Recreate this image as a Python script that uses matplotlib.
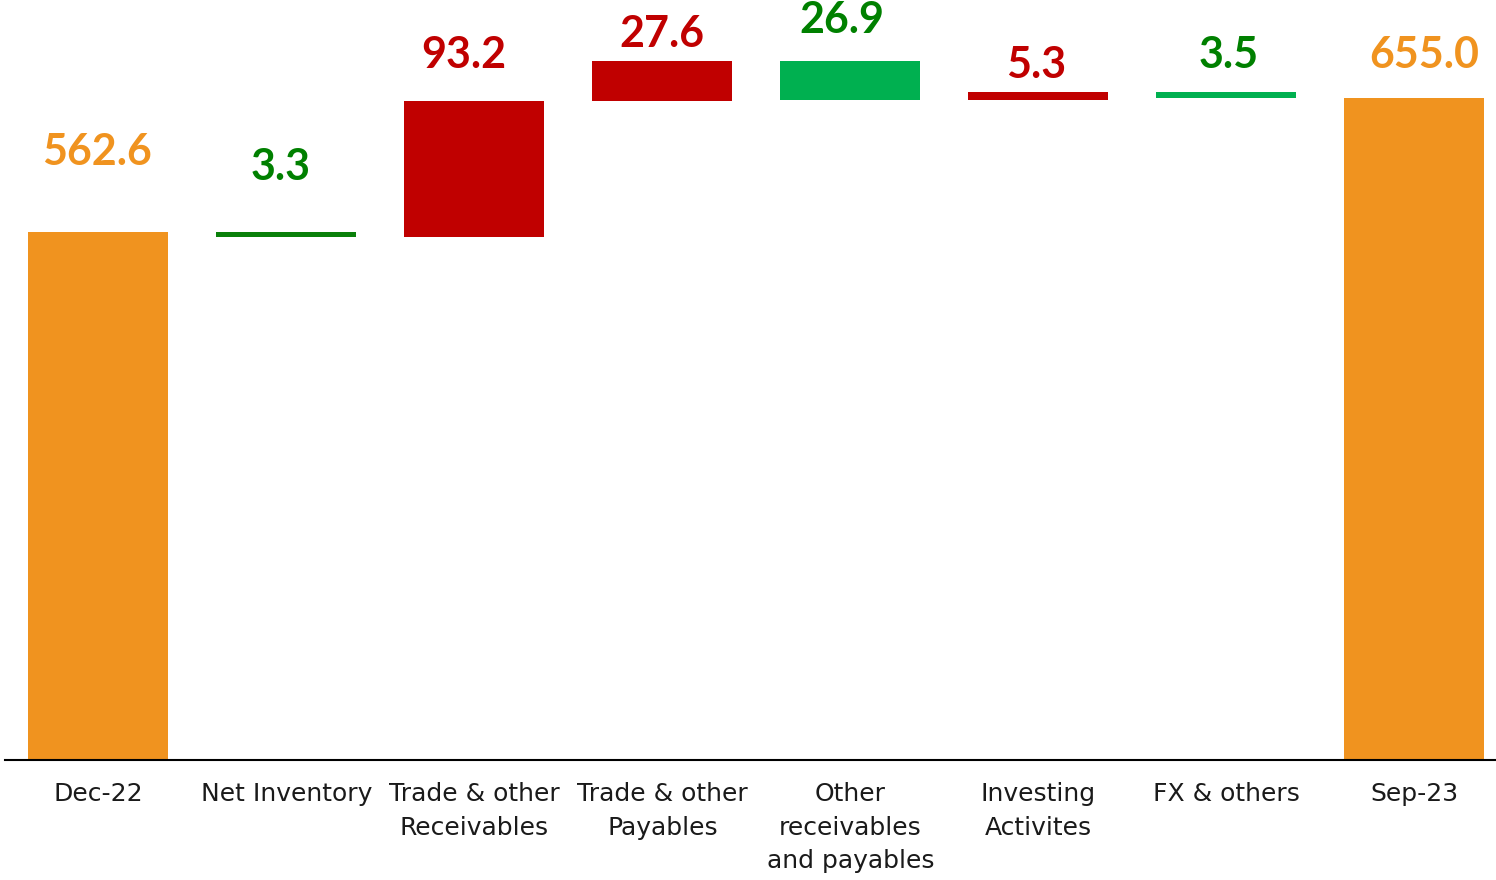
import numpy as np
import matplotlib
matplotlib.use("Agg")
import matplotlib.pyplot as plt

# net debt bridge, Dec-22 -> Sep-23
categories = ["Dec-22", "Net Inventory", "Trade & other\nReceivables", "Trade & other\nPayables",
              "Other\nreceivables\nand payables", "Investing\nActivites", "FX & others", "Sep-23"]
changes = [562.6, -3.3, 93.2, 27.6, -26.9, 5.3, -3.5, 655.0]
is_total = [True, False, False, False, False, False, False, True]
labels = ["562.6", "3.3", "93.2", "27.6", "26.9", "5.3", "3.5", "655.0"]

bar_colors = ["#F0931F", "#0A800A", "#C00000", "#C00000", "#00B050", "#C00000", "#00B050", "#F0931F"]
text_colors = ["#F0931F", "#008000", "#C00000", "#C00000", "#008000", "#C00000", "#008000", "#F0931F"]
# label offsets above bar top, in pixels (dx, dy)
label_off = [(-1, 67), (-6, 52), (-11, 33), (-1, 14), (-9, 28), (-2, 14), (2, 24), (10, 30)]

bottoms, heights, tops = [], [], []
level = 0.0
for v, tot in zip(changes, is_total):
    if tot:
        bottoms.append(0)
        heights.append(v)
        level = v
    else:
        new = level + v
        bottoms.append(min(level, new))
        heights.append(abs(v))
        level = new
    tops.append(bottoms[-1] + heights[-1])

fig = plt.figure(figsize=(14.96, 8.8), dpi=100)
ax = fig.add_axes([5 / 1496, 120 / 880, 1491 / 1496, 760 / 880])
x = np.arange(len(categories))
ax.bar(x, heights, bottom=bottoms, width=0.745, color=bar_colors)

for i, lab in enumerate(labels):
    ax.annotate(lab, (x[i], tops[i]), xytext=label_off[i], textcoords="offset pixels",
                ha="center", va="baseline", fontsize=31, fontweight="bold",
                family="Lato", color=text_colors[i])

ax.set_xlim(-0.497, 7.434)
ax.set_ylim(200, 722)
ax.set_xticks(x)
ax.set_xticklabels(categories, fontsize=18, color="#1a1a1a", linespacing=1.5)
ax.tick_params(axis="x", length=0, pad=16)
ax.set_yticks([])
for s in ["top", "left", "right"]:
    ax.spines[s].set_visible(False)
ax.spines["bottom"].set_linewidth(1.5)
ax.spines["bottom"].set_color("black")

fig.savefig("out.png", dpi=100)
